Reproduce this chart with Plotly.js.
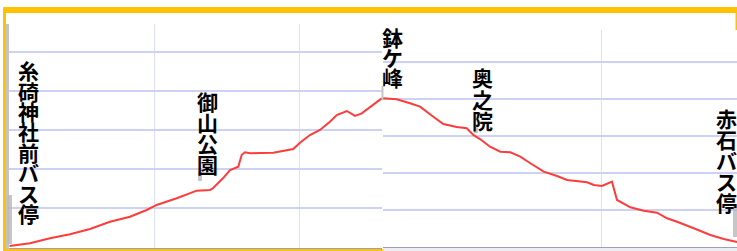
<!DOCTYPE html>
<html>
<head>
<meta charset="utf-8">
<script src="https://cdn.plot.ly/plotly-3.0.1.min.js"></script>
<style>html,body{margin:0;padding:0;background:#fff;}#chart{width:737px;height:251px;}</style>
</head>
<body>
<div id="chart"></div>
<script>
// Left screenshot: 糸碕神社前バス停 -> 鉢ケ峰 (distance km, elevation m)
const distUp = [0, 0.141, 0.279, 0.417, 0.555, 0.693, 0.831, 0.946, 1.015, 1.153, 1.291, 1.383, 1.403, 1.472, 1.521, 1.578, 1.601, 1.624, 1.659, 1.728, 1.819, 1.957, 2.003, 2.072, 2.141, 2.210, 2.257, 2.326, 2.383, 2.429, 2.509, 2.567];
const elevUp = [1.5, 4.3, 9.4, 13.5, 18.9, 26.3, 31.4, 38.3, 43.4, 50.2, 58.0, 58.7, 60.4, 70.6, 79.1, 82.4, 94.4, 97.1, 96.1, 96.1, 96.7, 100.5, 106.9, 114.8, 119.9, 128.4, 135.2, 139.3, 134.2, 136.9, 145.4, 152.2];
// Right screenshot: 鉢ケ峰 -> 赤石バス停
const distDown = [2.409, 2.509, 2.606, 2.679, 2.776, 2.849, 2.947, 3.020, 3.068, 3.117, 3.190, 3.265, 3.338, 3.411, 3.484, 3.582, 3.679, 3.752, 3.898, 3.947, 4.007, 4.080, 4.117, 4.214, 4.312, 4.409, 4.482, 4.555, 4.677, 4.798, 4.896, 4.993];
const elevDown = [160.4, 159.4, 155.0, 151.4, 140.5, 132.6, 129.4, 128.0, 120.8, 116.4, 108.1, 102.7, 102.1, 97.3, 90.2, 81.1, 76.4, 72.1, 69.6, 66.7, 65.6, 70.3, 50.5, 42.6, 38.9, 36.8, 30.7, 27.0, 19.9, 12.6, 8.3, 5.1];
// Place names
const placeNames = ['糸碕神社前バス停', '御山公園', '鉢ケ峰', '奥之院', '赤石バス停'];

const W = 737, H = 251;
const fx = x => x / W;
const fy = y => 1 - y / H;

const lineStyle = {color: '#ff3c3c', width: 2};
const traces = [
  {x: distUp, y: elevUp, type: 'scatter', mode: 'lines', line: lineStyle, xaxis: 'x', yaxis: 'y', hoverinfo: 'skip'},
  {x: distDown, y: elevDown, type: 'scatter', mode: 'lines', line: lineStyle, xaxis: 'x2', yaxis: 'y2', hoverinfo: 'skip'}
];

// label placement (pixel centres / tops)
const labelPos = [
  {cx: 28, top: 60, step: 20.4},
  {cx: 207, top: 90, step: 21.2},
  {cx: 392, top: 27, step: 20},
  {cx: 482, top: 67, step: 21},
  {cx: 726, top: 107, step: 21}
];
const annotations = [];
placeNames.forEach((name, k) => {
  const p = labelPos[k];
  Array.from(name).forEach((ch, i) => {
    annotations.push({
      xref: 'paper', yref: 'paper', x: fx(p.cx), y: fy(p.top + p.step * (i + 0.5)),
      xanchor: 'center', yanchor: 'middle', showarrow: false, text: ch, borderpad: 0,
      font: {family: 'Noto Sans CJK JP', size: 21, color: '#000', weight: 'bold'}
    });
  });
});

const yellow = '#ffc200';
const mark = (x0, x1, y0, y1) => ({type: 'rect', xref: 'paper', yref: 'paper', x0: fx(x0), x1: fx(x1), y0: fy(y1), y1: fy(y0), fillcolor: '#b8b8b8', opacity: 0.8, line: {width: 0}});
const shapes = [
  {type: 'rect', xref: 'paper', yref: 'paper', x0: fx(3), x1: fx(737), y0: fy(13), y1: fy(7), fillcolor: yellow, line: {width: 0}},
  {type: 'rect', xref: 'paper', yref: 'paper', x0: fx(3), x1: fx(6), y0: fy(251), y1: fy(7), fillcolor: yellow, line: {width: 0}},
  {type: 'rect', xref: 'paper', yref: 'paper', x0: fx(3), x1: fx(383), y0: fy(251), y1: fy(249), fillcolor: yellow, line: {width: 0}},
  {type: 'rect', xref: 'paper', yref: 'paper', x0: fx(735.5), x1: fx(737), y0: fy(30), y1: fy(13), fillcolor: yellow, line: {width: 0}},
  {type: 'rect', xref: 'paper', yref: 'paper', x0: fx(6), x1: fx(9), y0: fy(249), y1: fy(24), fillcolor: '#c4c4c4', line: {width: 0}},
  {type: 'rect', xref: 'paper', yref: 'paper', x0: fx(383), x1: fx(737), y0: fy(251), y1: fy(248), fillcolor: '#eeeeee', line: {width: 0}},
  mark(7.5, 12, 195, 244),
  mark(198, 202, 172, 181),
  mark(381.5, 383.5, 86, 100),
  mark(474, 478, 127, 133),
  mark(733, 737, 204, 237)
];

const gridH = '#cdd1f3';
const gridV = '#dde0f8';
const layout = {
  width: W, height: H,
  margin: {l: 0, r: 0, t: 0, b: 0, pad: 0},
  paper_bgcolor: '#fff', plot_bgcolor: 'rgba(0,0,0,0)',
  showlegend: false,
  xaxis: {domain: [fx(9), fx(382)], range: [(9 - 9.5) / 145, (382 - 9.5) / 145], tick0: 0, dtick: 1,
    showticklabels: false, ticks: '', gridcolor: gridV, gridwidth: 1, zeroline: false,
    showline: true, linecolor: '#9d9dca', linewidth: 2, anchor: 'y'},
  yaxis: {domain: [fy(247.5), fy(24)], range: [0, (247.5 - 24) / 39.2 * 40], tick0: 0, dtick: 40,
    showticklabels: false, ticks: '', gridcolor: gridH, gridwidth: 2, zeroline: false,
    showline: true, linecolor: '#b4bcf2', linewidth: 1, anchor: 'x'},
  xaxis2: {domain: [fx(383), 1], range: [4 + (383 - 601) / 137, 4 + (737 - 601) / 137], tickmode: 'array', tickvals: [4],
    showticklabels: false, ticks: '', gridcolor: gridV, gridwidth: 1, zeroline: false,
    showline: true, linecolor: '#9d9dca', linewidth: 2, anchor: 'y2'},
  yaxis2: {domain: [fy(246.7), fy(30)], range: [0, (246.7 - 30) / 37 * 40], tick0: 0, dtick: 40,
    showticklabels: false, ticks: '', gridcolor: gridH, gridwidth: 2, zeroline: false,
    showline: false, anchor: 'x2'},
  shapes: shapes,
  annotations: annotations
};

Plotly.newPlot('chart', traces, layout, {staticPlot: true, displayModeBar: false});
</script>
</body>
</html>
